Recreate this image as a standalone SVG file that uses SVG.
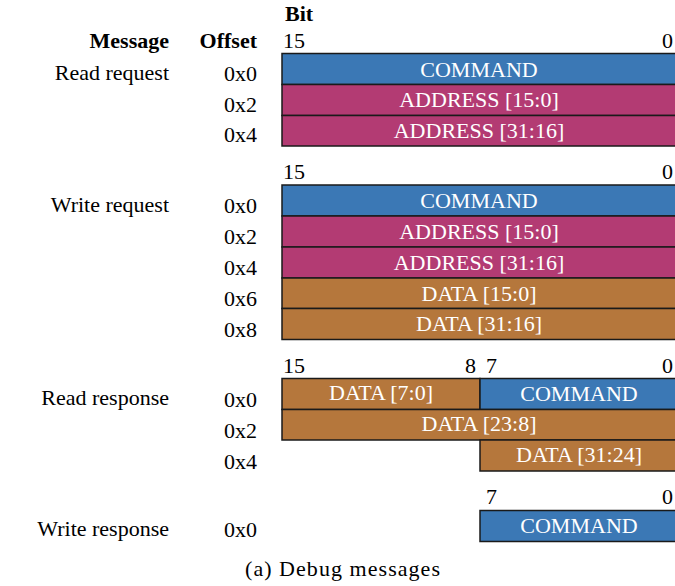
<svg xmlns="http://www.w3.org/2000/svg" width="675" height="586" viewBox="0 0 675 586" font-family="'Liberation Serif', 'DejaVu Serif', serif">
<style>
text{font-family:'Liberation Serif','DejaVu Serif',serif;font-size:22px;fill:#000}
.b{font-weight:bold}
.r{text-anchor:end}
.m{text-anchor:middle}
.w{fill:#fff;text-anchor:middle}
.cmd{fill:#3b78b5;stroke:#1a1a1a;stroke-width:1.5}
.adr{fill:#b33b73;stroke:#1a1a1a;stroke-width:1.5}
.dat{fill:#b5773c;stroke:#1a1a1a;stroke-width:1.5}
</style>
<rect width="675" height="586" fill="#fff"/>
<g id="header">
<text class="b" x="285" y="21">Bit</text>
<text class="b r" x="169" y="48">Message</text>
<text class="b r" x="257" y="48">Offset</text>
</g>
<g id="read-request">
<text x="283" y="48">15</text>
<text class="r" x="673" y="48">0</text>
<text class="r" x="169" y="80">Read request</text>
<text class="r" x="257" y="81">0x0</text>
<text class="r" x="257" y="112">0x2</text>
<text class="r" x="257" y="142">0x4</text>
<rect class="cmd" x="282" y="53.5" width="396" height="31"/>
<rect class="adr" x="282" y="84.5" width="396" height="31"/>
<rect class="adr" x="282" y="115.5" width="396" height="30.5"/>
<text class="w" x="479" y="77">COMMAND</text>
<text class="w" x="479" y="107">ADDRESS [15:0]</text>
<text class="w" x="479" y="138">ADDRESS [31:16]</text>
</g>
<g id="write-request">
<text x="283" y="179">15</text>
<text class="r" x="673" y="179">0</text>
<text class="r" x="169" y="212">Write request</text>
<text class="r" x="257" y="213">0x0</text>
<text class="r" x="257" y="244">0x2</text>
<text class="r" x="257" y="275">0x4</text>
<text class="r" x="257" y="306">0x6</text>
<text class="r" x="257" y="337">0x8</text>
<rect class="cmd" x="282" y="185" width="396" height="31"/>
<rect class="adr" x="282" y="216" width="396" height="31"/>
<rect class="adr" x="282" y="247" width="396" height="31"/>
<rect class="dat" x="282" y="278" width="396" height="30.5"/>
<rect class="dat" x="282" y="308.5" width="396" height="31"/>
<text class="w" x="479" y="208">COMMAND</text>
<text class="w" x="479" y="239">ADDRESS [15:0]</text>
<text class="w" x="479" y="270">ADDRESS [31:16]</text>
<text class="w" x="479" y="301">DATA [15:0]</text>
<text class="w" x="479" y="331">DATA [31:16]</text>
</g>
<g id="read-response">
<text x="283" y="373">15</text>
<text class="r" x="476" y="373">8</text>
<text x="486" y="373">7</text>
<text class="r" x="673" y="373">0</text>
<text class="r" x="169" y="405">Read response</text>
<text class="r" x="257" y="407">0x0</text>
<text class="r" x="257" y="438">0x2</text>
<text class="r" x="257" y="469">0x4</text>
<rect class="dat" x="282" y="378.5" width="198" height="31"/>
<rect class="cmd" x="480" y="378.5" width="198" height="31"/>
<rect class="dat" x="282" y="409.5" width="396" height="30.5"/>
<rect class="dat" x="480" y="440" width="198" height="31"/>
<text class="w" x="381" y="400">DATA [7:0]</text>
<text class="w" x="579" y="401">COMMAND</text>
<text class="w" x="479" y="431">DATA [23:8]</text>
<text class="w" x="579" y="462">DATA [31:24]</text>
</g>
<g id="write-response">
<text x="486" y="504">7</text>
<text class="r" x="673" y="504">0</text>
<text class="r" x="169" y="536">Write response</text>
<text class="r" x="257" y="537">0x0</text>
<rect class="cmd" x="480" y="510.5" width="198" height="31"/>
<text class="w" x="579" y="533">COMMAND</text>
</g>
<g id="connectors"></g>
<text x="245" y="576" textLength="195" lengthAdjust="spacing">(a) Debug messages</text>
</svg>
